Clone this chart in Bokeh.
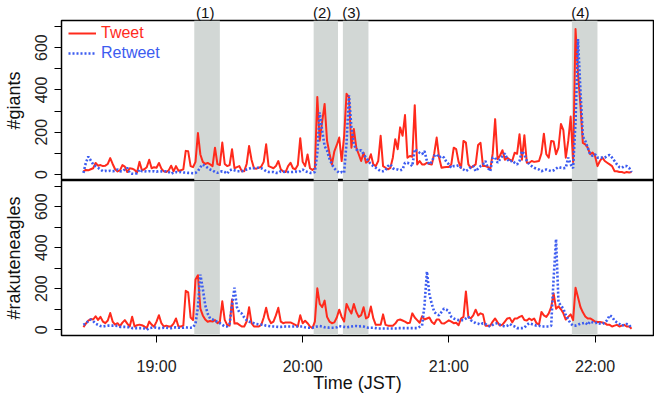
from bokeh.plotting import figure
from bokeh.layouts import column
from bokeh.models import Range1d, FixedTicker, BoxAnnotation, Legend, LegendItem, LinearAxis
from bokeh.embed import file_html
from bokeh.resources import INLINE

# ---------------- data (counts per minute, from 18:30) ----------------
start_time = "18:30"
giants_tweet = [
    15, 22, 20, 25, 30, 55, 42, 45, 40, 42,
    50, 78, 50, 25, 15, 20, 45, 38, 12, 30,
    28, 22, 10, 60, 20, 25, 35, 70, 30, 35,
    32, 55, 28, 15, 12, 20, 42, 15, 40, 18,
    20, 25, 112, 110, 40, 35, 60, 196, 95, 60,
    50, 55, 48, 40, 127, 50, 45, 151, 50, 40,
    45, 120, 30, 35, 40, 16, 16, 50, 135, 70,
    30, 28, 32, 38, 60, 143, 40, 35, 30, 40,
    64, 25, 15, 12, 40, 56, 30, 25, 45, 172,
    60, 40, 95, 30, 22, 30, 367, 160, 250, 334,
    160, 100, 48, 110, 140, 175, 64, 180, 382, 366,
    127, 215, 127, 96, 64, 103, 56, 64, 96, 48,
    40, 64, 183, 40, 32, 25, 32, 80, 167, 120,
    223, 183, 281, 80, 88, 84, 328, 48, 64, 48,
    48, 56, 50, 48, 100, 175, 80, 32, 35, 36,
    36, 48, 127, 120, 60, 32, 159, 151, 48, 32,
    40, 48, 140, 150, 40, 40, 36, 25, 100, 262,
    72, 90, 115, 70, 80, 70, 64, 103, 98, 191,
    70, 186, 56, 56, 64, 60, 62, 64, 100, 193,
    96, 80, 159, 156, 96, 127, 239, 210, 80, 159,
    274, 60, 688, 480, 330, 150, 143, 127, 96, 104,
    88, 40, 64, 80, 64, 56, 48, 40, 16, 16,
    12, 12, 8, 12, 10, 12,
]
giants_retweet = [
    8, 56, 85, 67, 48, 40, 32, 24, 16, 18,
    16, 18, 16, 18, 24, 16, 15, 24, 32, 8,
    4, 3, 6, 24, 16, 16, 14, 16, 15, 16,
    14, 16, 15, 14, 16, 12, 4, 10, 12, 10,
    12, 10, 10, 8, 8, 6, 8, 16, 35, 48,
    40, 32, 24, 20, 12, 8, 12, 16, 12, 4,
    20, 24, 20, 16, 16, 16, 20, 24, 28, 32,
    30, 32, 32, 30, 24, 16, 12, 12, 12, 8,
    8, 16, 14, 12, 12, 12, 12, 14, 12, 16,
    24, 16, 12, 8, 8, 12, 100, 294, 207, 135,
    113, 75, 48, 29, 18, 8, 12, 8, 150, 374,
    223, 143, 119, 111, 115, 96, 80, 64, 48, 40,
    32, 24, 16, 16, 20, 40, 48, 30, 24, 24,
    20, 24, 56, 56, 50, 40, 120, 111, 103, 96,
    111, 64, 48, 60, 88, 96, 80, 88, 80, 60,
    48, 32, 40, 40, 44, 32, 24, 16, 24, 35,
    40, 16, 28, 40, 48, 64, 32, 16, 80, 80,
    56, 72, 88, 100, 72, 60, 66, 56, 48, 64,
    111, 96, 64, 48, 40, 32, 28, 24, 16, 20,
    24, 20, 16, 20, 28, 36, 32, 30, 32, 80,
    48, 30, 250, 640, 400, 180, 159, 127, 96, 88,
    96, 80, 80, 80, 80, 88, 93, 80, 64, 48,
    35, 32, 40, 40, 32, 12,
]
rakuten_tweet = [
    13, 30, 45, 52, 50, 66, 48, 63, 40, 32,
    45, 82, 40, 25, 32, 18, 35, 47, 30, 16,
    63, 16, 22, 25, 22, 16, 8, 40, 25, 15,
    40, 71, 32, 16, 20, 16, 16, 30, 55, 16,
    16, 20, 190, 182, 60, 47, 245, 266, 103, 70,
    50, 39, 43, 40, 47, 32, 40, 139, 48, 24,
    20, 148, 30, 32, 24, 16, 16, 40, 110, 32,
    16, 16, 16, 24, 60, 107, 55, 32, 40, 70,
    107, 40, 32, 36, 36, 36, 30, 24, 16, 71,
    32, 44, 32, 16, 8, 40, 202, 126, 110, 142,
    63, 40, 32, 36, 60, 98, 63, 40, 126, 100,
    79, 126, 87, 63, 71, 110, 55, 63, 113, 55,
    24, 24, 24, 75, 24, 20, 20, 20, 30, 47,
    50, 45, 40, 32, 34, 80, 60, 47, 34, 66,
    50, 55, 60, 38, 28, 50, 50, 32, 30, 38,
    46, 40, 32, 34, 22, 55, 63, 187, 63, 55,
    70, 98, 70, 80, 75, 20, 20, 20, 40, 55,
    36, 20, 25, 40, 55, 58, 36, 55, 55, 63,
    68, 48, 45, 55, 47, 55, 32, 25, 87, 70,
    63, 80, 110, 177, 103, 114, 100, 80, 50, 63,
    75, 47, 205, 158, 111, 85, 65, 55, 55, 48,
    40, 38, 38, 35, 32, 24, 24, 16, 20, 24,
    16, 20, 24, 16, 16, 5,
]
rakuten_retweet = [
    24, 32, 42, 50, 42, 30, 24, 18, 16, 18,
    20, 20, 20, 20, 18, 14, 14, 14, 13, 12,
    8, 8, 8, 8, 8, 6, 0, 8, 10, 12,
    10, 8, 8, 10, 10, 8, 8, 10, 12, 10,
    10, 10, 12, 10, 10, 12, 30, 110, 269, 200,
    120, 79, 55, 50, 45, 38, 32, 24, 16, 16,
    30, 120, 205, 110, 85, 79, 60, 47, 40, 35,
    32, 28, 26, 25, 24, 20, 18, 16, 16, 15,
    14, 14, 15, 16, 16, 16, 16, 16, 16, 16,
    16, 12, 10, 10, 10, 13, 16, 18, 16, 12,
    12, 10, 10, 10, 12, 18, 16, 14, 12, 14,
    16, 18, 18, 16, 18, 16, 12, 10, 10, 10,
    8, 6, 6, 6, 6, 6, 6, 6, 6, 8,
    8, 8, 8, 8, 8, 8, 8, 8, 14, 20,
    120, 284, 174, 126, 87, 75, 71, 87, 103, 98,
    90, 63, 55, 50, 47, 47, 47, 55, 63, 47,
    40, 32, 30, 25, 32, 28, 20, 16, 24, 30,
    32, 24, 20, 16, 20, 28, 20, 16, 8, 8,
    8, 10, 24, 32, 28, 24, 20, 20, 16, 16,
    16, 16, 20, 250, 442, 134, 118, 103, 71, 50,
    30, 20, 20, 24, 30, 32, 35, 24, 40, 36,
    32, 36, 30, 28, 35, 47, 71, 63, 45, 35,
    28, 20, 24, 28, 24, 5,
]

event_starts = ["19:15:30", "20:04:30", "20:16:30", "21:50:30"]
event_ends = ["19:26:00", "20:14:30", "20:27:00", "22:01:00"]
event_label_times = ["19:20:00", "20:08:00", "20:20:00", "21:54:00"]
event_labels = ["(1)", "(2)", "(3)", "(4)"]

x_tick_hours = [19, 20, 21, 22]
x_tick_labels = ["19:00", "20:00", "21:00", "22:00"]
y_tick_values = [0, 200, 400, 600]
y_minor_values = [100, 300, 500, 700]


def to_hours(s):
    parts = [float(v) for v in s.split(":")]
    while len(parts) < 3:
        parts.append(0.0)
    return parts[0] + parts[1] / 60 + parts[2] / 3600


t0 = to_hours(start_time)
times = [t0 + i / 60 for i in range(len(giants_tweet))]

RED = "#ff2a1c"
BLUE = "#3c5cf0"
GRAY = "#d2d7d5"
FONT = "Liberation Sans"

x_range = Range1d(18.35, 22.40)
y_lo, y_hi = -28, 728

WIDTH = 654
TOP_BORDER = 20
TOP_H = 180
BOT_H = 215
BOT_BORDER = 56


def make_panel(height, tweets, retweets, ylabel, top, bottom_border, show_x):
    p = figure(width=WIDTH, height=height, output_backend="svg", toolbar_location=None,
               x_range=x_range, y_range=Range1d(y_lo, y_hi), title=None,
               x_axis_location="below" if show_x else None,
               min_border_left=60, min_border_right=1, min_border_top=top,
               min_border_bottom=bottom_border)
    p.xgrid.visible = False
    p.ygrid.visible = False
    p.outline_line_color = "black"
    p.outline_line_width = 1.5
    p.outline_line_alpha = 1
    p.background_fill_color = "white"
    p.border_fill_color = "white"

    for s, e in zip(event_starts, event_ends):
        p.add_layout(BoxAnnotation(left=to_hours(s), right=to_hours(e), fill_color=GRAY,
                                   fill_alpha=1.0, line_color=None, level="underlay"))

    r1 = p.line(times, tweets, line_color=RED, line_width=2.0, line_join="round")
    r2 = p.line(times, retweets, line_color=BLUE, line_width=2.6, line_dash="2 2")

    ya = p.yaxis[0]
    ya.ticker = FixedTicker(ticks=y_tick_values, minor_ticks=y_minor_values)
    ya.major_label_orientation = "vertical"
    ya.major_label_text_font = FONT
    ya.major_label_text_font_size = "16px"
    ya.major_label_text_color = "#222222"
    ya.major_tick_out = 7
    ya.major_tick_in = 0
    ya.minor_tick_out = 7
    ya.minor_tick_in = 0
    ya.major_label_standoff = 7
    ya.axis_label = ylabel
    ya.axis_label_text_font = FONT
    ya.axis_label_text_font_size = "18px"
    ya.axis_label_text_font_style = "normal"
    ya.axis_label_text_color = "#111111"
    ya.axis_label_standoff = 9
    ya.axis_line_color = "black"

    if show_x:
        xa = p.xaxis[0]
        xa.ticker = FixedTicker(ticks=x_tick_hours, minor_ticks=[])
        xa.major_label_overrides = {h: l for h, l in zip(x_tick_hours, x_tick_labels)}
        xa.major_label_text_font = FONT
        xa.major_label_text_font_size = "16px"
        xa.major_label_text_color = "#222222"
        xa.major_tick_out = 7
        xa.major_tick_in = 0
        xa.major_label_standoff = 15
        xa.axis_label = "Time (JST)"
        xa.axis_label_text_font = FONT
        xa.axis_label_text_font_size = "18px"
        xa.axis_label_text_font_style = "normal"
        xa.axis_label_text_color = "#111111"
        xa.axis_label_standoff = -5
    return p, r1, r2


p1, t1, rt1 = make_panel(TOP_H, giants_tweet, giants_retweet, "#giants", TOP_BORDER, 0, False)
p2, t2, rt2 = make_panel(BOT_H, rakuten_tweet, rakuten_retweet, "#rakuteneagles", 0, BOT_BORDER, True)

# event labels (1)..(4) as an axis above the top panel
label_ticks = [to_hours(t) for t in event_label_times]
top_axis = LinearAxis(ticker=FixedTicker(ticks=label_ticks, minor_ticks=[]),
                      major_label_overrides={t: l for t, l in zip(label_ticks, event_labels)},
                      axis_line_color=None, major_tick_line_color=None, minor_tick_line_color=None,
                      major_tick_out=0, major_tick_in=0, major_label_standoff=0,
                      major_label_text_font=FONT, major_label_text_font_size="15px",
                      major_label_text_color="#111111")
p1.add_layout(top_axis, "above")

frame_h = TOP_H - TOP_BORDER
for name, rend, color, ypos in [("Tweet", t1, RED, frame_h - 23), ("Retweet", rt1, BLUE, frame_h - 43)]:
    lg = Legend(items=[LegendItem(label=name, renderers=[rend])], location=(7, ypos),
                glyph_width=28, glyph_height=16, label_standoff=5, padding=0, margin=0,
                spacing=0, label_height=20, border_line_color=None,
                background_fill_alpha=0, label_text_font=FONT,
                label_text_font_size="16px", label_text_color=color)
    p1.add_layout(lg)

layout = column(p1, p2, spacing=0)
open("out.html", "w").write(file_html(layout, INLINE))
